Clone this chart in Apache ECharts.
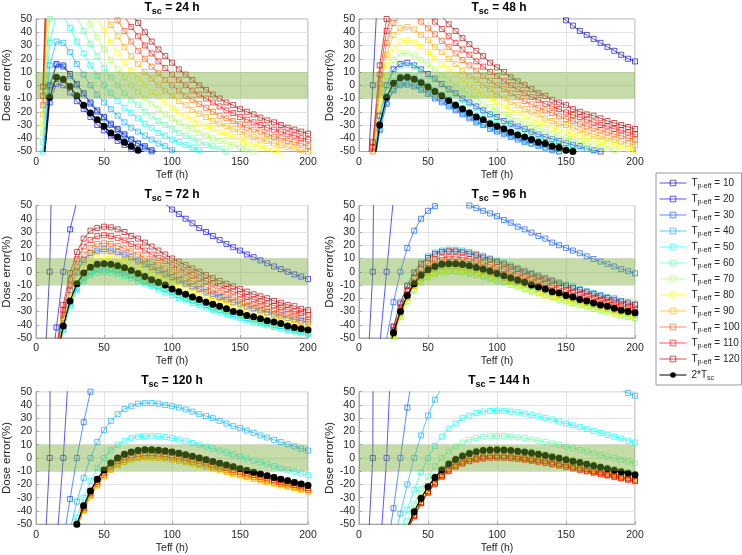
<!DOCTYPE html>
<html>
<head>
<meta charset="utf-8">
<script src="https://cdn.jsdelivr.net/npm/echarts/dist/echarts.min.js"></script>
<style>
  html, body { margin: 0; padding: 0; background: #fff; }
  #chart { width: 742px; height: 555px; }
</style>
</head>
<body>
<div id="chart"></div>
<script>
const _ = null;

// effective half-life axis (h)
const teff = [5,10,15,20,25,30,35,40,45,50,55,60,65,70,75,80,85,90,95,100,105,110,115,120,125,130,135,140,145,150,155,160,165,170,175,180,185,190,195,200];
const tscList = [24, 48, 72, 96, 120, 144];
const tpList = [10, 20, 30, 40, 50, 60, 70, 80, 90, 100, 110, 120];
const band = [-10, 10];

// dose error (%), missing = outside the plotted range
// Tsc = 24 h
const s24_t10 = [-62,0,16,15,8.5,1,-6,-13,-19,-24,-29,-33,-37,-41,-44,-46,-49,-51];
const s24_t20 = [-67,-13,1,0,-5.5,-12,-18,-24,-30,-34,-38,-42,-45,-48,-51];
const s24_t30 = [-62,-1,15,14,7,0,-7,-14,-20,-25,-30,-34,-38,-41,-44,-47,-50,-52];
const s24_t40 = [-56,15,33,32,25,16,8,0,-7,-13,-18,-23,-28,-32,-35,-38,-41,-44,-46,-49,-51];
const s24_t50 = [-50,32,53,52,43,33,24,15,7,0,-6,-12,-17,-21,-25,-29,-32,-36,-38,-41,-43,-45,-47,-49,-51];
const s24_t60 = [-43,50,74,72,63,52,41,31,22,13,6,0,-6,-11,-15,-20,-23,-27,-30,-33,-36,-38,-40,-43,-45,-46,-48,-50,-51];
const s24_t70 = [-36,68,_,_,_,_,58,46,36,27,19,12,6,0,-5,-10,-14,-18,-22,-25,-28,-31,-33,-36,-38,-40,-42,-44,-45,-47,-48.5,-50,-51];
const s24_t80 = [-29,87,_,_,_,_,_,_,51,41,32,24,17,11,5,0,-5,-9,-13,-17,-20,-23,-26,-29,-31,-33,-35.5,-37.5,-39,-41,-43,-44.5,-46,-47.5,-49,-50];
const s24_t90 = [-22,105,_,_,_,_,_,_,66,55,45.5,37,29,22,16,10,5,0,-4,-8,-12,-15,-18.5,-21.5,-24,-27,-29,-31,-33,-35,-37,-39,-41,-42,-44,-45,-46.5,-48,-49,-50];
const s24_t100 = [-15,124,_,_,_,_,_,_,_,69,59,49,41,33,26,20,14,9,4,0,-4,-8,-11,-14,-17,-20,-23,-25,-27,-29.5,-32,-33.5,-35,-37,-39,-40,-42,-43,-44,-46];
const s24_t110 = [-8,142,_,_,_,_,_,_,_,_,72,62,52,44,37,30,24,18,13,8,4,0,-4,-7,-10,-13,-16,-19,-21,-24,-26,-28,-30,-32,-33.5,-35,-37,-38,-40,-41];
const s24_t120 = [-1,161,_,_,_,_,_,_,_,_,_,_,64,55,47,40,33,27,22,17,12,8,4,0,-3.5,-7,-10,-13,-15,-18,-20,-22,-24.5,-26.5,-28,-30,-32,-33.5,-35,-36.5];
const s24_black = [-66,-9,6,4.5,-1,-8,-15,-21,-26,-31,-36,-39,-43,-46,-49,-51];

// Tsc = 48 h
const s48_t10 = [-93,0,102,_,_,_,_,_,_,_,_,_,_,_,_,_,_,_,_,_,_,_,_,_,_,_,_,_,53,49,45,41,38,35,32,29,26,23,20,18];
const s48_t20 = [_,-62,-23,0,12,16,17,15,12,8.5,5,1,-3,-6,-10,-13,-16,-19,-22,-24,-27,-29,-31,-33,-35,-37,-39,-40.5,-42,-43.5,-45,-46,-48,-49,-50];
const s48_t30 = [_,-67,-34,-14,-4,0,0.4,-1,-3.5,-6.5,-10,-13,-16,-19,-22,-25,-28,-30,-33,-35,-37,-39,-41,-43,-44,-46,-47,-49,-50];
const s48_t40 = [_,-67,-33,-13,-3,1,1.5,0,-2.5,-5.5,-9,-12,-15,-18,-21,-24,-27,-29.5,-32,-34,-36,-38,-40,-42,-44,-45,-47,-48,-49.6,-51];
const s48_t50 = [_,-65,-29.5,-8,3,7,7.4,6,3,0,-3.4,-7,-10,-14,-17,-20,-23,-25,-28,-30,-32.5,-35,-37,-39,-40,-42,-44,-45,-47,-48,-49,-51];
const s48_t60 = [_,-62.5,-24,-1,10,15,15.4,14,11,7,4,0,-4,-7,-11,-14,-17,-20,-22.5,-25,-27.5,-30,-32,-34,-36,-38,-39.5,-41,-43,-44,-46,-47,-48,-49.5,-51];
const s48_t70 = [_,-60,-18,7,19,24,24,22.5,19,16,12,8,4,0,-4,-7,-10,-14,-16.5,-19,-22,-24,-27,-29,-31,-33,-35,-36.5,-38,-40,-41,-43,-44,-45.5,-47,-48,-49,-50.3];
const s48_t80 = [_,-56.5,-12,15,28,33,34,32,29,25,20,16,12,8,4,0,-4,-7,-10,-13,-16,-18.5,-21,-23,-26,-28,-30,-32,-33.5,-35,-37,-38,-40,-41,-43,-44,-45,-46,-48,-49];
const s48_t90 = [_,-53,-5.5,23,38,43,44,42,38,34,29,25,20,16,11,7,4,0,-3,-7,-10,-12.5,-15,-18,-20,-22,-25,-27,-29,-30,-32,-34,-35.5,-37,-38.5,-40,-41,-42.5,-44,-45];
const s48_t100 = [-96,-50,1,32,47,53,54,52,48,43,38.5,33.5,29,24,19,15,11,7,3.4,0,-3,-6,-9,-12,-14.5,-17,-19,-21,-23.5,-25.5,-27,-29,-31,-32.5,-34,-35.6,-37,-38,-40,-41];
const s48_t110 = [-96,-47,8,41,57,_,_,62,58,53,48,42.5,37,32,27,23,18,14,10,7,3,0,-3,-6,-9,-11,-14,-16,-18,-20.5,-22.5,-24,-26,-28,-30,-31,-33,-34,-35.6,-37];
const s48_t120 = [-96,-43,15,50,67,_,_,_,_,63,57,52,46,41,35.5,31,26,22,17,13.5,10,6,3,0,-3,-6,-8,-11,-13,-15,-18,-20,-22,-23,-25,-27,-28.5,-30,-31.5,-33];
const s48_black = [_,-66,-30,-9,1.5,5.6,6,4.5,1.8,-1.3,-4.7,-8,-11.5,-15,-18,-21,-24,-26,-29,-31,-33,-35.5,-37.5,-39,-41,-43,-44,-46,-47,-49,-50,-51];

// Tsc = 72 h
const s72_t10 = [-99,0,252];
const s72_t20 = [_,-83.5,-42,0,32,53,_,_,_,_,_,_,_,_,_,_,_,_,51,47,43.6,40,36.6,33,30,27,24,21,18.5,16,13,11,8.6,6.4,4,2,0,-2,-3.7,-5.5];
const s72_t30 = [_,_,-62,-35,-14,0,9,14,16,17,16,15,13,11,8.5,6,3.6,1,-1.4,-4,-6,-9,-11,-13,-15,-17,-19,-21,-23,-24,-26,-27.5,-29,-30.5,-32,-33,-35,-36,-37,-38];
const s72_t40 = [_,_,-67,-43,-24,-12,-4.4,0,2,2.7,2.2,1,-0.6,-2.5,-4.5,-6.7,-9,-11,-13,-15,-17.5,-20,-21.5,-23,-25,-27,-29,-30,-32,-33,-35,-36,-37.6,-39,-40,-41,-42.5,-44,-45,-46];
const s72_t50 = [_,_,-67.5,-44,-26,-14,-7,-2.6,-0.6,0,-0.5,-1.6,-3.2,-5,-7,-9,-11,-13.4,-15.6,-17.6,-20,-21.6,-23.6,-25.4,-27,-29,-30.6,-32,-33.6,-35,-36.6,-38,-39,-40.5,-41.7,-43,-44,-45,-46,-47];
const s72_t60 = [_,_,-67,-43,-25,-13,-5.4,-1,1,1.6,1.1,0,-1.6,-3.5,-5.5,-7.7,-10,-12,-14,-16,-18,-20,-22,-24,-26,-28,-29,-31,-33,-34,-35.5,-37,-38,-39.5,-41,-42,-43,-44,-45,-46];
const s72_t70 = [_,_,-66,-41,-22,-10,-2,2.5,4.7,5.3,4.8,3.6,2,0,-2,-4.3,-6.6,-9,-11,-13,-15,-17.5,-19.5,-21.5,-23,-25,-27,-28.6,-30,-32,-33,-35,-36,-37,-39,-40,-41,-42,-43,-44];
const s72_t80 = [_,_,-64,-38,-19,-6,2.5,7,9.4,10,9.5,8.3,6.6,4.5,2.3,0,-2.4,-4.7,-7,-9.4,-11.6,-14,-16,-18,-20,-22,-23.6,-25,-27,-28.6,-30,-32,-33,-34.5,-36,-37,-38,-40,-41,-42];
const s72_t90 = [_,_,-62.5,-35,-15,-1,7.6,12.5,15,15.5,15,13.7,12,9.7,7.4,5,2.5,0,-2.5,-5,-7,-9.5,-11.7,-14,-16,-18,-20,-21.6,-23.4,-25,-26.7,-28,-30,-31,-33,-34,-35,-36.6,-38,-39];
const s72_t100 = [_,_,-61,-32,-10.5,4,13,18,21,21.4,21,19.5,17.6,15.4,13,10,7.7,5,2.5,0,-2.5,-5,-7,-9.4,-11.6,-14,-16,-17.6,-19.5,-21,-23,-24.6,-26,-28,-29,-30.6,-32,-33,-34.6,-36];
const s72_t110 = [_,_,-58.5,-29,-6,9.4,19,24,27,27.6,27,25.6,23.6,21,19,16,13,10.5,8,5,2.5,0,-2.4,-5,-7,-9,-11,-13,-15,-17,-19,-21,-22.5,-24,-25.6,-27,-28.5,-30,-31,-32.5];
const s72_t120 = [_,_,-56.5,-25,-1,15,25,31,33,34,33.5,32,30,27,25,22,19,16,13,10,7.7,5,2.5,0,-2.4,-4.7,-7,-9,-11,-13,-15,-17,-18.5,-20,-22,-23.4,-25,-26,-28,-29];
const s72_black = [_,_,-66,-41,-22,-9,-1,3.4,5.6,6,5.7,4.5,3,1,-1.3,-3.5,-6,-8,-10,-13,-15,-17,-19,-21,-23,-24.5,-26,-28,-30,-31,-33,-34,-35.5,-37,-38,-39,-41,-42,-43,-44];

// Tsc = 96 h
const s96_t10 = [-100,0,513];
const s96_t20 = [_,-93,-56,0,56];
const s96_t30 = [_,_,-78,-50.5,-23,0,18,31,40,46,49.5,52,52,52,51,50,48,46,44,42,39,37,34,32,29.5,27,25,22,20,18,16,14,11.6,9.6,7.7,5.8,4,2,0.5,-1.2];
const s96_t40 = [_,_,_,-62,-41,-23,-10,0,7,11.6,14.5,16,16.7,16.6,16,15,13.5,12,10,8.5,6.7,4.8,3,1,-0.8,-2.7,-4.5,-6.3,-8,-9.7,-11,-13,-14.5,-16,-17.5,-19,-20,-22,-23,-24];
const s96_t50 = [_,_,_,-66,-47,-31,-19,-10,-4,0,2.6,4,4.6,4.5,3.9,3,1.8,0.4,-1.1,-2.7,-4.4,-6,-8,-9.4,-11,-13,-14,-16,-17.5,-19,-20.5,-22,-23,-25,-26,-27,-29,-30,-31,-32];
const s96_t60 = [_,_,_,-67,-49,-34,-22,-14,-8,-4,-1.4,0,0.5,0.4,-0.1,-1,-2.2,-3.5,-5,-6.5,-8,-9.7,-11,-13,-14.5,-16,-17.7,-19,-21,-22,-23.6,-25,-26,-28,-29,-30,-31,-33,-34,-35];
const s96_t70 = [_,_,_,-67,-49.4,-34.3,-22.7,-14.2,-8.3,-4.3,-1.8,-0.4,0.1,0,-0.6,-1.5,-2.6,-3.9,-5.4,-6.9,-8.5,-10,-11.7,-13.3,-15,-16.5,-18,-19.6,-21,-22.5,-24,-25.3,-26.7,-28,-29.3,-30.5,-31.7,-33,-34,-35.1];
const s96_t80 = [_,_,_,-67,-48.7,-33.3,-21.6,-13,-7,-3,-0.3,1,1.6,1.5,0.9,0,-1.2,-2.5,-4,-5.5,-7,-8.8,-10.4,-12,-13.7,-15.3,-17,-18.4,-20,-21.4,-22.8,-24.2,-25.6,-27,-28.2,-29.5,-30.7,-32,-33,-34];
const s96_t90 = [_,_,_,-65,-47,-31.6,-19.5,-10.7,-4.5,-0.4,2.2,3.6,4.2,4.1,3.5,2.6,1.4,0,-1.5,-3.1,-4.7,-6.4,-8.1,-9.8,-11.4,-13,-14.7,-16.3,-17.8,-19.3,-20.8,-22.2,-23.6,-25,-26.3,-27.6,-28.9,-30,-31.2,-32.4];
const s96_t100 = [_,_,_,-64,-45.7,-29.4,-17,-8,-1.5,2.8,5.5,7,7.5,7.4,6.8,5.8,4.6,3.2,1.6,0,-1.7,-3.4,-5.2,-6.9,-8.6,-10.3,-12,-13.6,-15.2,-16.8,-18.3,-19.8,-21.2,-22.6,-24,-25.3,-26.6,-27.9,-29.1,-30.3];
const s96_t110 = [_,_,_,-63,-43.8,-27,-14,-4.6,2,6.4,9.2,10.7,11.3,11.2,10.6,9.6,8.3,6.8,5.2,3.5,1.8,0,-1.8,-3.6,-5.4,-7.1,-8.9,-10.5,-12.2,-13.8,-15.4,-16.9,-18.4,-19.9,-21.3,-22.7,-24,-25.3,-26.6,-27.8];
const s96_t120 = [_,_,_,-62,-41.6,-24,-10.8,-1,5.8,10.4,13.3,15,15.5,15.4,14.7,13.7,12.4,10.8,9.2,7.4,5.6,3.7,1.9,0,-1.8,-3.7,-5.5,-7.2,-8.9,-10.6,-12.3,-13.8,-15.4,-16.9,-18.4,-19.8,-21.2,-22.5,-23.8,-25.1];
const s96_black = [_,_,_,-66,-46,-30,-18,-9,-2.7,1.5,4,5.6,6,6,5.4,4.5,3.3,1.8,0.3,-1.3,-3,-4.7,-6.4,-8,-10,-11.5,-13,-15,-16,-18,-19,-21,-22,-23.6,-25,-26,-27.6,-29,-30,-31];

// Tsc = 120 h
const s120_t10 = [-100,0,967];
const s120_t20 = [_,-97,-67,0,84];
const s120_t30 = [_,_,_,-62.5,-31,0,27,50,68];
const s120_t40 = [_,_,_,_,-54,-33,-15,0,12,21,28,33,37,39,41,41.4,41.5,41,40,39,38,36.6,35,33,31.6,30,28,26,24,22.5,20.7,19,17,15.4,13.7,12,10.3,8.7,7,5.6];
const s120_t50 = [_,_,_,_,-62,-45,-30,-17.5,-7.6,0,5.8,10,13,15,16,16.6,16.7,16.4,15.7,15,13.8,12.6,11.3,10,8.5,7,5.6,4,2.6,1,-0.4,-2,-3.4,-4.8,-6.2,-7.6,-9,-10.3,-11.7,-13];
const s120_t60 = [_,_,_,_,-66,-50,-36,-25,-16,-9,-3.8,0,2.7,4.5,5.6,6.1,6.1,5.8,5.3,4.5,3.5,2.4,1.2,0,-1.3,-2.6,-4,-5.4,-6.7,-8.1,-9.5,-10.8,-12.1,-13.4,-14.7,-16,-17.2,-18.5,-19.7,-20.8];
const s120_t70 = [_,_,_,_,-67,-52,-39,-28,-19.6,-13,-8,-4.3,-1.7,0,1,1.5,1.6,1.3,0.7,0,-0.9,-2,-3.1,-4.3,-5.5,-6.8,-8.1,-9.4,-10.7,-12,-13.4,-14.6,-15.9,-17.2,-18.4,-19.6,-20.8,-22,-23.1,-24.2];
const s120_t80 = [_,_,_,_,-68,-53,-40,-29,-21,-14,-9,-5.7,-3.2,-1.5,-0.5,0,0,-0.2,-0.8,-1.5,-2.4,-3.4,-4.5,-5.7,-7,-8.2,-9.5,-10.8,-12.1,-13.4,-14.7,-16,-17.2,-18.4,-19.6,-20.8,-22,-23,-24.2,-25.3];
const s120_t90 = [_,_,_,_,-67.6,-52.8,-39.8,-29.1,-20.6,-14.1,-9.1,-5.5,-3,-1.3,-0.2,0.2,0.3,0,-0.5,-1.3,-2.2,-3.2,-4.3,-5.5,-6.7,-8,-9.3,-10.6,-11.9,-13.2,-14.4,-15.7,-17,-18.2,-19.4,-20.6,-21.8,-22.9,-24.1,-25.2];
const s120_t100 = [_,_,_,_,-67,-52,-39,-28,-19.6,-13,-8,-4.3,-1.7,0,1,1.5,1.6,1.3,0.7,0,-0.9,-2,-3.1,-4.3,-5.5,-6.8,-8.1,-9.4,-10.7,-12,-13.4,-14.6,-15.9,-17.2,-18.4,-19.6,-20.8,-22,-23.1,-24.2];
const s120_t110 = [_,_,_,_,-66.4,-51.2,-37.8,-26.7,-18,-11.2,-6.1,-2.4,0.3,2,3.1,3.6,3.6,3.3,2.8,2,1.1,0,-1.2,-2.4,-3.6,-4.9,-6.3,-7.6,-8.9,-10.3,-11.6,-12.9,-14.2,-15.5,-16.8,-18,-19.2,-20.4,-21.6,-22.7];
const s120_t120 = [_,_,_,_,-66,-50,-36,-25,-16,-9,-3.8,0,2.7,4.5,5.6,6.1,6.1,5.8,5.3,4.5,3.5,2.4,1.2,0,-1.3,-2.6,-4,-5.4,-6.7,-8.1,-9.5,-10.8,-12.1,-13.4,-14.7,-16,-17.2,-18.5,-19.7,-20.8];
const s120_black = [_,_,_,_,-66,-50,-36,-25,-16,-9,-3.8,0,2.7,4.5,5.6,6.1,6.1,5.8,5.3,4.5,3.5,2.4,1.2,0,-1.3,-2.6,-4,-5.4,-6.7,-8.1,-9.5,-10.8,-12.1,-13.4,-14.7,-16,-17.2,-18.5,-19.7,-20.8];

// Tsc = 144 h
const s144_t10 = [-100,0,1757];
const s144_t20 = [_,_,-75,0,117];
const s144_t30 = [_,_,_,-72,-38,0,38,72];
const s144_t40 = [_,_,_,_,-64,-42,-20,0,17,32,44,53,61,_,_,_,_,_,_,_,_,_,_,_,_,_,_,_,_,_,_,_,_,_,_,_,_,51,49,47];
const s144_t50 = [_,_,_,_,-73,-56,-39,-24,-11,0,9,16,22,26,30,32,34,35,35.5,35.7,35.5,35,34.4,33.5,32.5,31.4,30.2,29,27.5,26,24.7,23.3,21.8,20.4,19,17.4,16,14.6,13,11.7];
const s144_t60 = [_,_,_,_,_,-62,-48,-35,-23.4,-14,-6.2,0,4.9,8.7,11.6,13.7,15,16,16.6,16.7,16.6,16.2,15.6,15,14,13,12,11,9.7,8.5,7.3,6,4.8,3.5,2.3,1,-0.2,-1.4,-2.7,-3.9];
const s144_t70 = [_,_,_,_,_,-65,-52,-40,-29.5,-21,-13.7,-8,-3.5,0,2.6,4.6,5.9,6.8,7.2,7.4,7.2,6.9,6.3,5.7,4.9,4,3,2,0.9,-0.2,-1.3,-2.4,-3.6,-4.7,-5.9,-7.1,-8.2,-9.3,-10.5,-11.6];
const s144_t80 = [_,_,_,_,_,-67,-54,-42.6,-32.6,-24.3,-17.5,-12,-7.7,-4.4,-1.8,0,1.3,2.1,2.5,2.7,2.5,2.2,1.7,1,0.3,-0.6,-1.5,-2.5,-3.5,-4.5,-5.6,-6.7,-7.8,-8.9,-10,-11.1,-12.2,-13.3,-14.4,-15.4];
const s144_t90 = [_,_,_,_,_,-67,-55,-43.8,-34,-25.9,-19.2,-13.8,-9.6,-6.3,-3.9,-2.1,-0.8,0,0.4,0.6,0.4,0.1,-0.4,-1,-1.8,-2.6,-3.5,-4.5,-5.5,-6.5,-7.5,-8.6,-9.7,-10.8,-11.8,-12.9,-14,-15.1,-16.1,-17.2];
const s144_t100 = [_,_,_,_,_,-67.5,-55,-44,-34.4,-26.3,-19.7,-14.3,-10.1,-6.9,-4.4,-2.6,-1.4,-0.6,-0.1,0,-0.1,-0.5,-0.9,-1.6,-2.3,-3.2,-4,-5,-6,-7,-8.1,-9.1,-10.2,-11.3,-12.4,-13.4,-14.5,-15.6,-16.6,-17.6];
const s144_t110 = [_,_,_,_,_,-67.4,-55,-43.9,-34.1,-26,-19.3,-13.9,-9.7,-6.4,-4,-2.2,-0.9,-0.1,0.3,0.5,0.3,0,-0.5,-1.1,-1.9,-2.7,-3.6,-4.6,-5.6,-6.6,-7.6,-8.7,-9.8,-10.9,-11.9,-13,-14.1,-15.2,-16.2,-17.3];
const s144_t120 = [_,_,_,_,_,-67,-54.5,-43.2,-33.3,-25.1,-18.4,-12.9,-8.7,-5.4,-2.9,-1,0.2,1,1.5,1.6,1.5,1.1,0.6,0,-0.8,-1.6,-2.5,-3.5,-4.5,-5.5,-6.6,-7.7,-8.7,-9.9,-10.9,-12,-13.1,-14.2,-15.3,-16.3];
const s144_black = [_,_,_,_,_,-66,-52.5,-40.6,-30.4,-21.8,-14.7,-9.1,-4.6,-1.1,1.5,3.4,4.7,5.6,6,6.1,6,5.7,5.1,4.5,3.7,2.8,1.8,0.8,-0.2,-1.3,-2.4,-3.5,-4.7,-5.8,-7,-8.1,-9.2,-10.4,-11.5,-12.6];

const panelCurves = [
  [s24_t10, s24_t20, s24_t30, s24_t40, s24_t50, s24_t60, s24_t70, s24_t80, s24_t90, s24_t100, s24_t110, s24_t120],
  [s48_t10, s48_t20, s48_t30, s48_t40, s48_t50, s48_t60, s48_t70, s48_t80, s48_t90, s48_t100, s48_t110, s48_t120],
  [s72_t10, s72_t20, s72_t30, s72_t40, s72_t50, s72_t60, s72_t70, s72_t80, s72_t90, s72_t100, s72_t110, s72_t120],
  [s96_t10, s96_t20, s96_t30, s96_t40, s96_t50, s96_t60, s96_t70, s96_t80, s96_t90, s96_t100, s96_t110, s96_t120],
  [s120_t10, s120_t20, s120_t30, s120_t40, s120_t50, s120_t60, s120_t70, s120_t80, s120_t90, s120_t100, s120_t110, s120_t120],
  [s144_t10, s144_t20, s144_t30, s144_t40, s144_t50, s144_t60, s144_t70, s144_t80, s144_t90, s144_t100, s144_t110, s144_t120]
];
const panelBlack = [s24_black, s48_black, s72_black, s96_black, s120_black, s144_black];

// jet(12), slightly faded
const jetColors = [
  'rgba(0,0,170,0.65)', 'rgba(0,0,255,0.65)', 'rgba(0,85,255,0.65)', 'rgba(0,170,255,0.65)',
  'rgba(0,255,255,0.65)', 'rgba(85,255,170,0.65)', 'rgba(170,255,85,0.65)', 'rgba(255,255,0,0.7)',
  'rgba(255,170,0,0.65)', 'rgba(255,85,0,0.65)', 'rgba(255,0,0,0.65)', 'rgba(170,0,0,0.65)'
];

const FONT = 'Liberation Sans, Arial, sans-serif';
const TXT = '#262626';
const gridLefts = [32, 359];
const gridTops = [19, 205.5, 391.7];
const gridW = 276, gridH = 132.5;

const tpNames = tpList.map(tp => 'Tp-eff = ' + tp);
const blackName = '2*Tsc';

function toPairs(vals) {
  return teff.map((t, i) => [t, vals[i] == null ? '-' : vals[i]]);
}

function renderBand(params, api) {
  const cs = params.coordSys;
  const yTop = api.coord([0, api.value(1)])[1];
  const yBot = api.coord([0, api.value(0)])[1];
  return {
    type: 'rect',
    shape: { x: cs.x, y: yTop, width: cs.width, height: yBot - yTop },
    style: { fill: 'rgba(119,172,48,0.42)' }
  };
}

const grids = [], xAxes = [], yAxes = [], titles = [], series = [];
tscList.forEach((tsc, p) => {
  const left = gridLefts[p % 2];
  const top = gridTops[Math.floor(p / 2)];
  grids.push({ left: left, top: top, width: gridW, height: gridH, show: true, borderColor: '#a6a6a6', borderWidth: 1, backgroundColor: '#fff' });
  xAxes.push({
    gridIndex: p, type: 'value', min: 0, max: 200, interval: 50,
    name: 'Teff (h)', nameLocation: 'middle', nameGap: 18,
    nameTextStyle: { fontFamily: FONT, fontSize: 10.5, color: TXT },
    axisLine: { show: true, onZero: false, lineStyle: { color: '#a6a6a6' } },
    axisTick: { show: true, inside: true, length: 3, lineStyle: { color: '#a6a6a6' } },
    axisLabel: { fontFamily: FONT, fontSize: 10.5, color: TXT, margin: 5 },
    splitLine: { show: true, lineStyle: { color: '#e3e3e3', width: 1 } }
  });
  yAxes.push({
    gridIndex: p, type: 'value', min: -50, max: 50, interval: 10,
    name: 'Dose error(%)', nameLocation: 'middle', nameGap: 20,
    nameTextStyle: { fontFamily: FONT, fontSize: 11.5, color: TXT },
    axisLine: { show: true, onZero: false, lineStyle: { color: '#a6a6a6' } },
    axisTick: { show: true, inside: true, length: 3, lineStyle: { color: '#a6a6a6' } },
    axisLabel: { fontFamily: FONT, fontSize: 10.5, color: TXT, margin: 4 },
    splitLine: { show: true, lineStyle: { color: '#e3e3e3', width: 1 } }
  });
  titles.push({
    text: '{t|T}{s|sc}{t| = ' + tsc + ' h}',
    left: left + gridW / 2, top: top - 21, textAlign: 'center', padding: 2,
    textStyle: {
      rich: {
        t: { fontFamily: FONT, fontSize: 12, fontWeight: 'bold', color: '#000', lineHeight: 16 },
        s: { fontFamily: FONT, fontSize: 9, fontWeight: 'bold', color: '#000', lineHeight: 16, padding: [8, 0, 0, 0] }
      }
    }
  });
  panelCurves[p].forEach((vals, k) => {
    series.push({
      name: tpNames[k], type: 'line', xAxisIndex: p, yAxisIndex: p,
      data: toPairs(vals), color: jetColors[k],
      symbol: 'rect', symbolSize: 5,
      lineStyle: { width: 1, color: jetColors[k] },
      itemStyle: { color: 'rgba(255,255,255,0)', borderColor: jetColors[k], borderWidth: 1 },
      emphasis: { disabled: true }, z: 2
    });
  });
  series.push({
    name: blackName, type: 'line', xAxisIndex: p, yAxisIndex: p,
    data: toPairs(panelBlack[p]), color: '#000',
    symbol: 'circle', symbolSize: 7,
    lineStyle: { width: 1.2, color: '#000' },
    itemStyle: { color: '#000' },
    emphasis: { disabled: true }, z: 3
  });
  // acceptance band +/-10 %, drawn over the curves like the original
  series.push({
    type: 'custom', xAxisIndex: p, yAxisIndex: p, z: 4, silent: true,
    data: [band], renderItem: renderBand
  });
});

const chart = echarts.init(document.getElementById('chart'));
chart.setOption({
  animation: false,
  backgroundColor: '#fff',
  title: titles,
  grid: grids,
  xAxis: xAxes,
  yAxis: yAxes,
  legend: {
    data: tpNames.concat([blackName]),
    orient: 'vertical', left: 656, top: 173,
    padding: [3, 2, 3, 3], itemGap: 2, itemWidth: 27, itemHeight: 7,
    backgroundColor: '#fff', borderColor: '#999', borderWidth: 1,
    selectedMode: false,
    lineStyle: { width: 1 },
    itemStyle: { borderWidth: 1 },
    formatter: function (name) {
      if (name === blackName) return '{t|2*T}{s|sc}';
      return '{t|T}{s|p-eff}{t| = ' + name.split('= ')[1] + '}';
    },
    textStyle: {
      rich: {
        t: { fontFamily: FONT, fontSize: 10, color: TXT, lineHeight: 14 },
        s: { fontFamily: FONT, fontSize: 7, color: TXT, lineHeight: 14, padding: [7, 0, 0, 0] }
      }
    }
  },
  series: series
});
</script>
</body>
</html>
